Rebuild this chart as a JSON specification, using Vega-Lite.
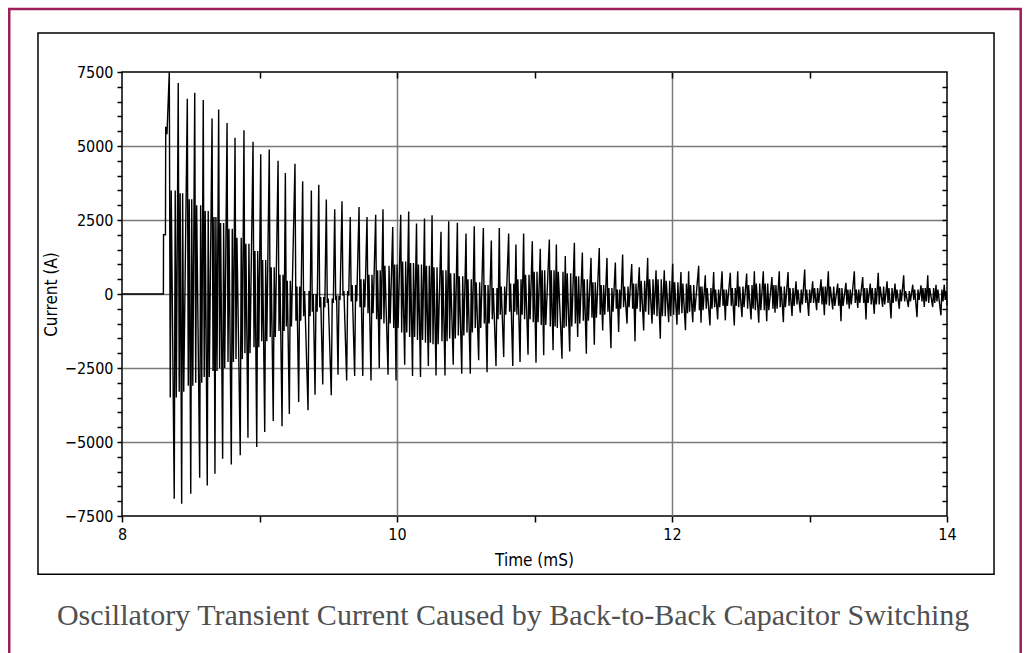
{
"$schema":"https://vega.github.io/schema/vega-lite/v6.json",
"width":825,"height":444,
"autosize":{"type":"none"},
"padding":{"left":122,"top":72,"right":79,"bottom":137},
"background":"white",
"config":{"view":{"stroke":"black","strokeWidth":1.5},
"axis":{"labelFont":"Liberation Sans Narrow, DejaVu Sans Condensed, Liberation Sans","titleFont":"Liberation Sans Narrow, DejaVu Sans Condensed, Liberation Sans","labelColor":"black","titleColor":"black","labelFontSize":16,"titleFontSize":17,"titleFontWeight":"normal","tickColor":"black","tickWidth":1.5,"domain":false,"gridColor":"#7a7a7a","gridWidth":1.5}},
"layer":[
{"data":{"values":[
{"t":8.0,"c":0},{"t":8.301,"c":0},{"t":8.302,"c":2000},{"t":8.316,"c":2000},{"t":8.318,"c":5650},{"t":8.327,"c":5400},
{"t":8.344,"c":7500},{"t":8.351,"c":-3500},{"t":8.358,"c":3500},{"t":8.380,"c":-6920},{"t":8.387,"c":3500},{"t":8.395,"c":-3500},
{"t":8.409,"c":7130},{"t":8.416,"c":-3300},{"t":8.423,"c":3400},{"t":8.434,"c":-7090},{"t":8.441,"c":3400},{"t":8.449,"c":-3300},
{"t":8.475,"c":6600},{"t":8.482,"c":-3100},{"t":8.489,"c":3200},{"t":8.500,"c":-6750},{"t":8.507,"c":3200},{"t":8.515,"c":-3100},
{"t":8.529,"c":6800},{"t":8.536,"c":-3000},{"t":8.543,"c":3000},{"t":8.565,"c":-6210},{"t":8.572,"c":3000},{"t":8.580,"c":-3000},
{"t":8.591,"c":6550},{"t":8.598,"c":-2800},{"t":8.605,"c":2800},{"t":8.620,"c":-6470},{"t":8.627,"c":2800},{"t":8.635,"c":-2800},
{"t":8.655,"c":5930},{"t":8.662,"c":-2600},{"t":8.669,"c":2600},{"t":8.676,"c":-6070},{"t":8.683,"c":2600},{"t":8.691,"c":-2600},
{"t":8.703,"c":6230},{"t":8.710,"c":-2500},{"t":8.717,"c":2400},{"t":8.732,"c":-5570},{"t":8.739,"c":2400},{"t":8.747,"c":-2500},
{"t":8.764,"c":5780},{"t":8.771,"c":-2300},{"t":8.778,"c":2200},{"t":8.795,"c":-5760},{"t":8.802,"c":2200},{"t":8.810,"c":-2300},
{"t":8.822,"c":5280},{"t":8.829,"c":-2200},{"t":8.836,"c":1900},{"t":8.860,"c":-5450},{"t":8.867,"c":1900},{"t":8.875,"c":-2200},
{"t":8.887,"c":5530},{"t":8.894,"c":-2000},{"t":8.901,"c":1700},{"t":8.916,"c":-4860},{"t":8.923,"c":1700},{"t":8.931,"c":-2000},
{"t":8.953,"c":5140},{"t":8.960,"c":-1800},{"t":8.967,"c":1450},{"t":8.980,"c":-5170},{"t":8.987,"c":1450},{"t":8.995,"c":-1800},
{"t":9.009,"c":4720},{"t":9.016,"c":-1600},{"t":9.023,"c":1150},{"t":9.038,"c":-4660},{"t":9.045,"c":1150},{"t":9.053,"c":-1600},
{"t":9.071,"c":4880},{"t":9.078,"c":-1450},{"t":9.085,"c":900},{"t":9.100,"c":-4290},{"t":9.107,"c":900},{"t":9.115,"c":-1450},
{"t":9.135,"c":4500},{"t":9.142,"c":-1250},{"t":9.149,"c":650},{"t":9.164,"c":-4470},{"t":9.171,"c":650},{"t":9.179,"c":-1250},
{"t":9.188,"c":4090},{"t":9.195,"c":-1100},{"t":9.202,"c":450},{"t":9.217,"c":-4050},{"t":9.224,"c":450},{"t":9.232,"c":-1100},
{"t":9.258,"c":4400},{"t":9.265,"c":-900},{"t":9.272,"c":250},{"t":9.285,"c":-3650},{"t":9.292,"c":250},{"t":9.300,"c":-900},
{"t":9.314,"c":3810},{"t":9.321,"c":-750},{"t":9.328,"c":100},{"t":9.353,"c":-3930},{"t":9.360,"c":100},{"t":9.368,"c":-750},
{"t":9.377,"c":3500},{"t":9.384,"c":-600},{"t":9.391,"c":0},{"t":9.404,"c":-3400},{"t":9.411,"c":0},{"t":9.419,"c":-600},
{"t":9.431,"c":3690},{"t":9.438,"c":-450},{"t":9.445,"c":-100},{"t":9.460,"c":-3060},{"t":9.467,"c":-100},{"t":9.475,"c":-450},
{"t":9.486,"c":3190},{"t":9.493,"c":-300},{"t":9.500,"c":-150},{"t":9.522,"c":-3420},{"t":9.529,"c":-150},{"t":9.537,"c":-300},
{"t":9.547,"c":2860},{"t":9.554,"c":-150},{"t":9.561,"c":-100},{"t":9.571,"c":-2730},{"t":9.578,"c":-100},{"t":9.586,"c":-150},
{"t":9.600,"c":3130},{"t":9.607,"c":-50},{"t":9.614,"c":100},{"t":9.634,"c":-2920},{"t":9.641,"c":100},{"t":9.649,"c":-50},
{"t":9.660,"c":2600},{"t":9.667,"c":-250},{"t":9.674,"c":300},{"t":9.692,"c":-2770},{"t":9.699,"c":300},{"t":9.707,"c":-250},
{"t":9.724,"c":2940},{"t":9.731,"c":-450},{"t":9.738,"c":500},{"t":9.751,"c":-2770},{"t":9.758,"c":500},{"t":9.766,"c":-450},
{"t":9.782,"c":2600},{"t":9.789,"c":-650},{"t":9.796,"c":650},{"t":9.811,"c":-2920},{"t":9.818,"c":650},{"t":9.826,"c":-650},
{"t":9.845,"c":2680},{"t":9.852,"c":-850},{"t":9.859,"c":800},{"t":9.871,"c":-2500},{"t":9.878,"c":800},{"t":9.886,"c":-850},
{"t":9.898,"c":2860},{"t":9.905,"c":-1000},{"t":9.912,"c":950},{"t":9.935,"c":-2730},{"t":9.942,"c":950},{"t":9.950,"c":-1000},
{"t":9.969,"c":2260},{"t":9.976,"c":-1150},{"t":9.983,"c":1000},{"t":9.993,"c":-2920},{"t":10.000,"c":1000},{"t":10.008,"c":-1150},
{"t":10.027,"c":2680},{"t":10.034,"c":-1300},{"t":10.041,"c":1100},{"t":10.056,"c":-2390},{"t":10.063,"c":1100},{"t":10.071,"c":-1300},
{"t":10.085,"c":2790},{"t":10.092,"c":-1450},{"t":10.099,"c":1050},{"t":10.113,"c":-2770},{"t":10.120,"c":1050},{"t":10.128,"c":-1450},
{"t":10.142,"c":2380},{"t":10.149,"c":-1550},{"t":10.156,"c":1000},{"t":10.171,"c":-2800},{"t":10.178,"c":1000},{"t":10.186,"c":-1550},
{"t":10.200,"c":2550},{"t":10.207,"c":-1650},{"t":10.214,"c":950},{"t":10.228,"c":-2430},{"t":10.235,"c":950},{"t":10.243,"c":-1650},
{"t":10.255,"c":2660},{"t":10.262,"c":-1700},{"t":10.269,"c":900},{"t":10.284,"c":-2750},{"t":10.291,"c":900},{"t":10.299,"c":-1700},
{"t":10.320,"c":2100},{"t":10.327,"c":-1600},{"t":10.334,"c":800},{"t":10.349,"c":-2750},{"t":10.356,"c":800},{"t":10.364,"c":-1600},
{"t":10.376,"c":2460},{"t":10.383,"c":-1500},{"t":10.390,"c":700},{"t":10.409,"c":-2390},{"t":10.416,"c":700},{"t":10.424,"c":-1500},
{"t":10.439,"c":2410},{"t":10.446,"c":-1400},{"t":10.453,"c":600},{"t":10.471,"c":-2690},{"t":10.478,"c":600},{"t":10.486,"c":-1400},
{"t":10.502,"c":2040},{"t":10.509,"c":-1300},{"t":10.516,"c":500},{"t":10.533,"c":-2690},{"t":10.540,"c":500},{"t":10.548,"c":-1300},
{"t":10.562,"c":2290},{"t":10.569,"c":-1150},{"t":10.576,"c":400},{"t":10.594,"c":-2240},{"t":10.601,"c":400},{"t":10.609,"c":-1150},
{"t":10.628,"c":2230},{"t":10.635,"c":-1000},{"t":10.642,"c":300},{"t":10.655,"c":-2640},{"t":10.662,"c":300},{"t":10.670,"c":-1000},
{"t":10.686,"c":1810},{"t":10.693,"c":-850},{"t":10.700,"c":200},{"t":10.720,"c":-2430},{"t":10.727,"c":200},{"t":10.735,"c":-850},
{"t":10.744,"c":2230},{"t":10.751,"c":-700},{"t":10.758,"c":250},{"t":10.776,"c":-2130},{"t":10.783,"c":250},{"t":10.791,"c":-700},
{"t":10.812,"c":2040},{"t":10.819,"c":-600},{"t":10.826,"c":350},{"t":10.842,"c":-2430},{"t":10.849,"c":350},{"t":10.857,"c":-600},
{"t":10.865,"c":1670},{"t":10.872,"c":-700},{"t":10.879,"c":500},{"t":10.895,"c":-2300},{"t":10.902,"c":500},{"t":10.910,"c":-700},
{"t":10.921,"c":2040},{"t":10.928,"c":-850},{"t":10.935,"c":650},{"t":10.953,"c":-2050},{"t":10.960,"c":650},{"t":10.968,"c":-850},
{"t":10.984,"c":1780},{"t":10.991,"c":-950},{"t":10.998,"c":750},{"t":11.011,"c":-2320},{"t":11.018,"c":750},{"t":11.026,"c":-950},
{"t":11.042,"c":1530},{"t":11.049,"c":-1050},{"t":11.056,"c":800},{"t":11.067,"c":-2070},{"t":11.074,"c":800},{"t":11.082,"c":-1050},
{"t":11.108,"c":1840},{"t":11.115,"c":-1100},{"t":11.122,"c":800},{"t":11.135,"c":-1900},{"t":11.142,"c":800},{"t":11.150,"c":-1100},
{"t":11.159,"c":1670},{"t":11.166,"c":-1150},{"t":11.173,"c":750},{"t":11.200,"c":-2190},{"t":11.207,"c":750},{"t":11.215,"c":-1150},
{"t":11.224,"c":1280},{"t":11.231,"c":-1100},{"t":11.238,"c":700},{"t":11.256,"c":-1940},{"t":11.263,"c":700},{"t":11.271,"c":-1100},
{"t":11.290,"c":1730},{"t":11.297,"c":-1000},{"t":11.304,"c":600},{"t":11.314,"c":-1450},{"t":11.321,"c":600},{"t":11.329,"c":-1000},
{"t":11.348,"c":1400},{"t":11.355,"c":-900},{"t":11.362,"c":500},{"t":11.377,"c":-2020},{"t":11.384,"c":500},{"t":11.392,"c":-900},
{"t":11.411,"c":1220},{"t":11.418,"c":-800},{"t":11.425,"c":400},{"t":11.435,"c":-1710},{"t":11.442,"c":400},{"t":11.450,"c":-800},
{"t":11.471,"c":1550},{"t":11.478,"c":-700},{"t":11.485,"c":300},{"t":11.496,"c":-1230},{"t":11.503,"c":300},{"t":11.511,"c":-700},
{"t":11.527,"c":1220},{"t":11.534,"c":-600},{"t":11.541,"c":200},{"t":11.556,"c":-1830},{"t":11.563,"c":200},{"t":11.571,"c":-600},
{"t":11.588,"c":1060},{"t":11.595,"c":-500},{"t":11.602,"c":150},{"t":11.612,"c":-1280},{"t":11.619,"c":150},{"t":11.627,"c":-500},
{"t":11.641,"c":1330},{"t":11.648,"c":-450},{"t":11.655,"c":250},{"t":11.673,"c":-1000},{"t":11.680,"c":250},{"t":11.688,"c":-450},
{"t":11.707,"c":1010},{"t":11.714,"c":-500},{"t":11.721,"c":350},{"t":11.731,"c":-1600},{"t":11.738,"c":350},{"t":11.746,"c":-500},
{"t":11.762,"c":900},{"t":11.769,"c":-600},{"t":11.776,"c":450},{"t":11.794,"c":-1230},{"t":11.801,"c":450},{"t":11.809,"c":-600},
{"t":11.823,"c":1220},{"t":11.830,"c":-700},{"t":11.837,"c":500},{"t":11.855,"c":-1000},{"t":11.862,"c":500},{"t":11.870,"c":-700},
{"t":11.884,"c":800},{"t":11.891,"c":-750},{"t":11.898,"c":500},{"t":11.915,"c":-1510},{"t":11.922,"c":500},{"t":11.930,"c":-750},
{"t":11.944,"c":800},{"t":11.951,"c":-750},{"t":11.958,"c":450},{"t":11.976,"c":-950},{"t":11.983,"c":450},{"t":11.991,"c":-750},
{"t":12.005,"c":1020},{"t":12.012,"c":-700},{"t":12.019,"c":400},{"t":12.036,"c":-1040},{"t":12.043,"c":400},{"t":12.051,"c":-700},
{"t":12.065,"c":740},{"t":12.072,"c":-650},{"t":12.079,"c":350},{"t":12.098,"c":-1220},{"t":12.105,"c":350},{"t":12.113,"c":-650},
{"t":12.121,"c":770},{"t":12.128,"c":-600},{"t":12.135,"c":300},{"t":12.151,"c":-950},{"t":12.158,"c":300},{"t":12.166,"c":-600},
{"t":12.194,"c":950},{"t":12.199,"c":-550},{"t":12.205,"c":250},{"t":12.211,"c":-970},{"t":12.218,"c":250},{"t":12.226,"c":-550},
{"t":12.242,"c":630},{"t":12.249,"c":-500},{"t":12.256,"c":200},{"t":12.276,"c":-1060},{"t":12.283,"c":200},{"t":12.291,"c":-500},
{"t":12.303,"c":740},{"t":12.310,"c":-450},{"t":12.317,"c":150},{"t":12.332,"c":-860},{"t":12.339,"c":150},{"t":12.347,"c":-450},
{"t":12.364,"c":770},{"t":12.371,"c":-400},{"t":12.378,"c":150},{"t":12.388,"c":-890},{"t":12.395,"c":150},{"t":12.403,"c":-400},
{"t":12.424,"c":720},{"t":12.431,"c":-400},{"t":12.438,"c":200},{"t":12.453,"c":-1060},{"t":12.460,"c":200},{"t":12.468,"c":-400},
{"t":12.478,"c":770},{"t":12.485,"c":-450},{"t":12.492,"c":250},{"t":12.509,"c":-780},{"t":12.516,"c":250},{"t":12.524,"c":-450},
{"t":12.543,"c":690},{"t":12.550,"c":-500},{"t":12.557,"c":300},{"t":12.575,"c":-860},{"t":12.582,"c":300},{"t":12.590,"c":-500},
{"t":12.599,"c":770},{"t":12.606,"c":-550},{"t":12.613,"c":350},{"t":12.631,"c":-970},{"t":12.638,"c":350},{"t":12.646,"c":-550},
{"t":12.664,"c":770},{"t":12.671,"c":-550},{"t":12.678,"c":350},{"t":12.689,"c":-920},{"t":12.696,"c":350},{"t":12.704,"c":-550},
{"t":12.727,"c":575},{"t":12.734,"c":-500},{"t":12.741,"c":300},{"t":12.749,"c":-630},{"t":12.756,"c":300},{"t":12.764,"c":-500},
{"t":12.780,"c":770},{"t":12.787,"c":-450},{"t":12.794,"c":250},{"t":12.810,"c":-950},{"t":12.817,"c":250},{"t":12.825,"c":-450},
{"t":12.844,"c":740},{"t":12.851,"c":-400},{"t":12.858,"c":200},{"t":12.873,"c":-740},{"t":12.880,"c":200},{"t":12.888,"c":-400},
{"t":12.902,"c":430},{"t":12.909,"c":-350},{"t":12.916,"c":150},{"t":12.933,"c":-630},{"t":12.940,"c":150},{"t":12.948,"c":-350},
{"t":12.965,"c":830},{"t":12.972,"c":-300},{"t":12.979,"c":150},{"t":12.994,"c":-740},{"t":13.001,"c":150},{"t":13.009,"c":-300},
{"t":13.023,"c":430},{"t":13.030,"c":-300},{"t":13.037,"c":200},{"t":13.052,"c":-550},{"t":13.059,"c":200},{"t":13.067,"c":-300},
{"t":13.084,"c":500},{"t":13.091,"c":-350},{"t":13.098,"c":250},{"t":13.108,"c":-720},{"t":13.115,"c":250},{"t":13.123,"c":-350},
{"t":13.137,"c":770},{"t":13.144,"c":-400},{"t":13.151,"c":250},{"t":13.169,"c":-520},{"t":13.176,"c":250},{"t":13.184,"c":-400},
{"t":13.205,"c":350},{"t":13.212,"c":-400},{"t":13.219,"c":200},{"t":13.229,"c":-920},{"t":13.236,"c":200},{"t":13.244,"c":-400},
{"t":13.265,"c":380},{"t":13.272,"c":-350},{"t":13.279,"c":150},{"t":13.289,"c":-500},{"t":13.296,"c":150},{"t":13.304,"c":-350},
{"t":13.326,"c":770},{"t":13.333,"c":-300},{"t":13.340,"c":150},{"t":13.351,"c":-470},{"t":13.358,"c":150},{"t":13.366,"c":-300},
{"t":13.387,"c":575},{"t":13.394,"c":-300},{"t":13.401,"c":200},{"t":13.411,"c":-860},{"t":13.418,"c":200},{"t":13.426,"c":-300},
{"t":13.442,"c":350},{"t":13.449,"c":-350},{"t":13.456,"c":200},{"t":13.471,"c":-670},{"t":13.478,"c":200},{"t":13.486,"c":-350},
{"t":13.500,"c":720},{"t":13.507,"c":-350},{"t":13.514,"c":250},{"t":13.532,"c":-440},{"t":13.539,"c":250},{"t":13.547,"c":-350},
{"t":13.564,"c":430},{"t":13.571,"c":-300},{"t":13.578,"c":200},{"t":13.593,"c":-830},{"t":13.600,"c":200},{"t":13.608,"c":-300},
{"t":13.622,"c":350},{"t":13.629,"c":-250},{"t":13.636,"c":150},{"t":13.653,"c":-500},{"t":13.660,"c":150},{"t":13.668,"c":-250},
{"t":13.685,"c":630},{"t":13.692,"c":-250},{"t":13.699,"c":100},{"t":13.719,"c":-440},{"t":13.726,"c":100},{"t":13.734,"c":-250},
{"t":13.751,"c":315},{"t":13.758,"c":-200},{"t":13.765,"c":150},{"t":13.782,"c":-780},{"t":13.789,"c":150},{"t":13.797,"c":-200},
{"t":13.811,"c":290},{"t":13.818,"c":-250},{"t":13.825,"c":200},{"t":13.835,"c":-440},{"t":13.842,"c":200},{"t":13.850,"c":-250},
{"t":13.860,"c":630},{"t":13.867,"c":-300},{"t":13.874,"c":200},{"t":13.896,"c":-440},{"t":13.903,"c":200},{"t":13.911,"c":-300},
{"t":13.920,"c":315},{"t":13.927,"c":-250},{"t":13.934,"c":150},{"t":13.956,"c":-720},{"t":13.963,"c":150},{"t":13.971,"c":-250},
{"t":13.980,"c":315},{"t":13.987,"c":-200},{"t":13.994,"c":100},{"t":14.0,"c":-380}
]},
"mark":{"type":"line","color":"black","strokeWidth":1.4},
"encoding":{
"x":{"field":"t","type":"quantitative","scale":{"domain":[8,14],"nice":false,"zero":false},
"axis":{"orient":"bottom","values":[8,9,10,11,12,13,14],"labelExpr":"datum.value % 2 === 0 ? datum.label : ''","tickSize":6,"labelPadding":4,"labelFlush":false,"labelOverlap":false,
"grid":true,"gridOpacity":{"condition":{"test":"datum.value === 10 || datum.value === 12","value":1},"value":0},
"title":"Time (mS)","titleX":412,"titleY":44,"titleAlign":"center","titleBaseline":"middle"}},
"y":{"field":"c","type":"quantitative","scale":{"domain":[-7500,7500],"nice":false,"zero":false},
"axis":{"orient":"left","values":[-7500,-7000,-6500,-6000,-5500,-5000,-4500,-4000,-3500,-3000,-2500,-2000,-1500,-1000,-500,0,500,1000,1500,2000,2500,3000,3500,4000,4500,5000,5500,6000,6500,7000,7500],
"format":"d","labelExpr":"datum.value % 2500 === 0 ? datum.label : ''","tickSize":5,"labelPadding":4,"labelFlush":false,"labelOverlap":false,
"grid":true,"gridOpacity":{"condition":{"test":"datum.value % 2500 === 0 && abs(datum.value) < 7500","value":1},"value":0},
"title":"Current (A)","titleX":-71,"titleY":222,"titleAngle":-90,"titleAlign":"center","titleBaseline":"middle"}}}},
{"data":{"values":[{}]},
"mark":{"type":"rect","filled":false,"stroke":"black","strokeWidth":1.5},
"encoding":{
"x":{"datum":7.389,"type":"quantitative","scale":{"domain":[8,14],"nice":false,"zero":false},
"axis":{"orient":"top","values":[9,10,11,12,13],"tickSize":-6,"labels":false,"grid":false,"title":null}},
"x2":{"datum":14.342},
"y":{"datum":8818,"type":"quantitative","scale":{"domain":[-7500,7500],"nice":false,"zero":false},
"axis":{"orient":"right","values":[-7000,-6500,-6000,-5500,-5000,-4500,-4000,-3500,-3000,-2500,-2000,-1500,-1000,-500,0,500,1000,1500,2000,2500,3000,3500,4000,4500,5000,5500,6000,6500,7000],"tickSize":-5,"labels":false,"grid":false,"title":null}},
"y2":{"datum":-9470}}},
{"data":{"values":[{}]},
"mark":{"type":"rect","filled":false,"stroke":"#9c1f5a","strokeWidth":2.5},
"encoding":{
"x":{"datum":7.180,"type":"quantitative","scale":{"domain":[8,14],"nice":false,"zero":false},"axis":null},
"x2":{"datum":14.536},
"y":{"datum":9628,"type":"quantitative","scale":{"domain":[-7500,7500],"nice":false,"zero":false},"axis":null},
"y2":{"datum":-14260}}},
{"data":{"values":[{}]},
"mark":{"type":"text","font":"Liberation Serif","fontSize":30,"color":"#505050","align":"center","baseline":"alphabetic"},
"encoding":{
"x":{"datum":10.844,"type":"quantitative","scale":{"domain":[8,14],"nice":false,"zero":false},"axis":null},
"y":{"datum":-11182,"type":"quantitative","scale":{"domain":[-7500,7500],"nice":false,"zero":false},"axis":null},
"text":{"value":"Oscillatory Transient Current Caused by Back-to-Back Capacitor Switching"}}}
],
"resolve":{"axis":{"x":"independent","y":"independent"}}
}
